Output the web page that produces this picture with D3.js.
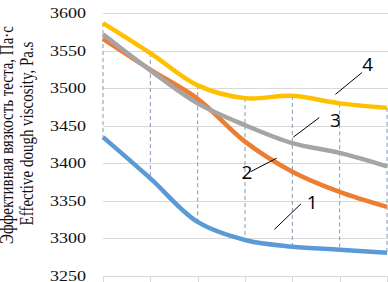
<!DOCTYPE html>
<html>
<head>
<meta charset="utf-8">
<script src="https://cdn.jsdelivr.net/npm/d3@7"></script>
<style>
  body { margin: 0; background: #fff; }
  svg { display: block; }
</style>
</head>
<body>
<div id="plot"></div>
<script>
// values, 7 points per curve
var points = [0, 1, 2, 3, 4, 5, 6];
var curve1 = [3435, 3380, 3322, 3298, 3289, 3285, 3281];
var curve2 = [3566, 3525, 3486, 3429, 3389, 3362, 3342];
var curve3 = [3572, 3524, 3480, 3451, 3427, 3414, 3396];
var curve4 = [3587, 3547, 3504, 3487, 3490, 3480, 3474];
var yTicks = [3250, 3300, 3350, 3400, 3450, 3500, 3550, 3600];
var curveNames = ["1", "2", "3", "4"];

var titleRu = "Эффективная вязкость теста, Па·с";
var titleEn = "Effective dough viscosity, Pa.s";

var W = 388, H = 282;
var colors = ["#5b9bd5", "#ed7d31", "#a5a5a5", "#ffc000"];

var svg = d3.select("#plot").append("svg")
  .attr("width", W)
  .attr("height", H);

var x = d3.scaleLinear().domain([0, 6]).range([103, 387]);
var y = d3.scaleLinear().domain([3250, 3600]).range([276, 13.3]);

// horizontal grid
svg.append("g")
  .selectAll("line")
  .data(yTicks)
  .enter().append("line")
  .attr("x1", x(0))
  .attr("x2", W)
  .attr("y1", function(d) { return Math.round(y(d)) + 0.5; })
  .attr("y2", function(d) { return Math.round(y(d)) + 0.5; })
  .attr("stroke", "#d9d9d9")
  .attr("stroke-width", 1);

// small ticks under the bottom line
svg.append("g")
  .selectAll("line")
  .data(points)
  .enter().append("line")
  .attr("x1", function(d) { return Math.round(x(d)) + 0.5; })
  .attr("x2", function(d) { return Math.round(x(d)) + 0.5; })
  .attr("y1", Math.round(y(3250)))
  .attr("y2", H)
  .attr("stroke", "#d9d9d9");

// y tick labels
svg.append("g")
  .selectAll("text")
  .data(yTicks)
  .enter().append("text")
  .attr("transform", function(d) { return "translate(86," + (y(d) + 5) + ") scale(1.2,1)"; })
  .attr("text-anchor", "end")
  .style("font-family", "'Liberation Serif', 'Times New Roman', serif")
  .style("font-size", "15px")
  .style("fill", "#111")
  .text(function(d) { return d; });

// axis titles
svg.append("text")
  .attr("transform", "translate(12.5,135) scale(1.2,1) rotate(-90)")
  .attr("text-anchor", "middle")
  .style("font-family", "'Liberation Serif', 'Times New Roman', serif")
  .style("font-size", "15px")
  .style("fill", "#111")
  .text(titleRu);

svg.append("text")
  .attr("transform", "translate(33,133.5) scale(1.2,1) rotate(-90)")
  .attr("text-anchor", "middle")
  .style("font-family", "'Liberation Serif', 'Times New Roman', serif")
  .style("font-size", "15px")
  .style("fill", "#111")
  .text(titleEn);

// high-low lines
var all = [curve1, curve2, curve3, curve4];
svg.append("g")
  .selectAll("line")
  .data(points)
  .enter().append("line")
  .attr("x1", function(d) { return x(d); })
  .attr("x2", function(d) { return x(d); })
  .attr("y1", function(d) { return y(d3.max(all, function(s) { return s[d]; })); })
  .attr("y2", function(d) { return y(d3.min(all, function(s) { return s[d]; })); })
  .attr("stroke", "#8497b0")
  .attr("stroke-width", 1)
  .attr("stroke-dasharray", "4,3");

var line = d3.line()
  .x(function(d, i) { return x(points[i]); })
  .y(function(d) { return y(d); })
  .curve(d3.curveCatmullRom.alpha(0.5));

svg.append("g")
  .selectAll("path")
  .data(all)
  .enter().append("path")
  .attr("d", line)
  .attr("fill", "none")
  .attr("stroke", function(d, i) { return colors[i]; })
  .attr("stroke-width", 4.5)
  .attr("stroke-linejoin", "round");

// callouts: label spot and leader line, in chart units
var callouts = [
  {name: curveNames[0], lx: 4.42, lv: 3339, a: [4.18, 3346], b: [3.62, 3312]},
  {name: curveNames[1], lx: 3.04, lv: 3379, a: [3.12, 3389], b: [3.67, 3407]},
  {name: curveNames[2], lx: 4.91, lv: 3448, a: [4.57, 3461], b: [4.02, 3435]},
  {name: curveNames[3], lx: 5.59, lv: 3523, a: [5.47, 3521], b: [4.91, 3492]}
];

svg.append("g")
  .selectAll("line")
  .data(callouts)
  .enter().append("line")
  .attr("x1", function(d) { return x(d.a[0]); })
  .attr("y1", function(d) { return y(d.a[1]); })
  .attr("x2", function(d) { return x(d.b[0]); })
  .attr("y2", function(d) { return y(d.b[1]); })
  .attr("stroke", "#000")
  .attr("stroke-width", 1);

svg.append("g")
  .selectAll("text")
  .data(callouts)
  .enter().append("text")
  .attr("x", function(d) { return x(d.lx); })
  .attr("y", function(d) { return y(d.lv); })
  .attr("text-anchor", "middle")
  .style("font-family", "'Open Sans', 'Liberation Sans', sans-serif")
  .style("font-size", "19px")
  .style("fill", "#000")
  .text(function(d) { return d.name; });
</script>
</body>
</html>
